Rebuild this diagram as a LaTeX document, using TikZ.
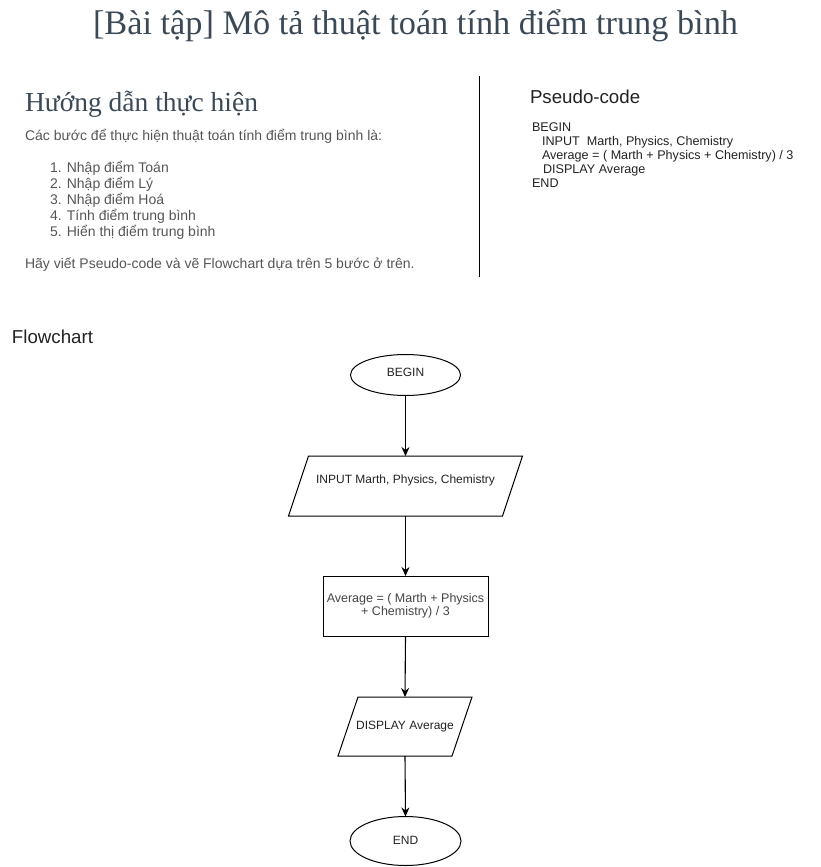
\documentclass[tikz,border=0pt]{standalone}
\usepackage{fontspec}
\setmainfont{Liberation Sans}
\newfontfamily\serifface{Liberation Serif}
\usetikzlibrary{arrows.meta,shapes.geometric}
\definecolor{titlecol}{HTML}{3B4956}
\definecolor{bodycol}{HTML}{555555}
\definecolor{codecol}{HTML}{222222}
\definecolor{proccol}{HTML}{444444}
\begin{document}
\begin{tikzpicture}[x=1pt,y=-1pt,
  txt/.style={anchor=base west,inner sep=0pt,outer sep=0pt},
  body/.style={txt,text=bodycol,font=\fontsize{14}{16}\selectfont},
  code/.style={txt,text=codecol,font=\fontsize{12.6}{14}\selectfont},
  heading/.style={txt,text=codecol,font=\fontsize{18.7}{22}\selectfont},
  shapeline/.style={draw=black,line width=1pt},
  chartfont/.style={font=\fontsize{12}{14}\selectfont,text=codecol},
  term/.style={shapeline,ellipse,inner sep=0pt,outer sep=0pt,chartfont},
  iobox/.style={inner sep=0pt,outer sep=0pt,chartfont},
  proc/.style={shapeline,rectangle,inner sep=0pt,outer sep=0pt,align=center,
    minimum width=165pt,minimum height=60pt,font=\fontsize{12.5}{13.5}\selectfont,text=proccol},
  conn/.style={-{Stealth[length=9pt,width=8pt]},line width=1.1pt,draw=black}
]
\useasboundingbox (0,0) rectangle (821,867);

% Title
\node[anchor=base,inner sep=0pt,text=titlecol,font=\serifface\fontsize{34.3}{40}\selectfont] (title) at (415.5,35) {[Bài tập] Mô tả thuật toán tính điểm trung bình};

% Left column
\node[txt,text=titlecol,font=\serifface\fontsize{27.5}{30}\selectfont] (guide) at (25,111) {Hướng dẫn thực hiện};
\node[body] (intro) at (25,140) {Các bước để thực hiện thuật toán tính điểm trung bình là:};
\node[body] (s1) at (50,172) {1. Nhập điểm Toán};
\node[body] (s2) at (50,188) {2. Nhập điểm Lý};
\node[body] (s3) at (50,204) {3. Nhập điểm Hoá};
\node[body] (s4) at (50,220) {4. Tính điểm trung bình};
\node[body] (s5) at (50,236) {5. Hiển thị điểm trung bình};
\node[body] (task) at (25,268) {Hãy viết Pseudo-code và vẽ Flowchart dựa trên 5 bước ở trên.};

% Divider
\coordinate (divtop) at (479.5,76);
\coordinate (divbot) at (479.5,277);
\draw[line width=1pt] (divtop) -- (divbot);

% Pseudo-code
\node[heading] (pch) at (530,103) {Pseudo-code};
\node[code] (c1) at (532,131) {BEGIN};
\node[code] (c2) at (542,145) {INPUT\ \ Marth, Physics, Chemistry};
\node[code] (c3) at (542,159) {Average = ( Marth + Physics + Chemistry) / 3};
\node[code] (c4) at (543,173) {DISPLAY Average};
\node[code] (c5) at (532,187) {END};

% Flowchart
\node[heading] (fch) at (12,343) {Flowchart};

\node[term,minimum width=110pt,minimum height=41pt] (begin) at (405.5,375) {\raisebox{3pt}[\height][\depth]{BEGIN}};
\node[iobox,minimum width=214pt,minimum height=60pt] (input) at (405.5,486) {\raisebox{6pt}[\height][\depth]{INPUT Marth, Physics, Chemistry}};
\draw[shapeline] ([xshift=-10pt]input.south west) -- ([xshift=-10pt]input.south east)
  -- ([xshift=10pt]input.north east) -- ([xshift=10pt]input.north west) -- cycle;
\node[proc] (avg) at (405.5,606) {Average = ( Marth + Physics\\+ Chemistry) / 3};
\node[iobox,minimum width=114pt,minimum height=59pt] (disp) at (405,726.5) {DISPLAY Average};
\draw[shapeline] ([xshift=-10pt]disp.south west) -- ([xshift=-10pt]disp.south east)
  -- ([xshift=10pt]disp.north east) -- ([xshift=10pt]disp.north west) -- cycle;
\node[term,minimum width=111pt,minimum height=49pt] (end) at (405.5,841) {\raisebox{1pt}[\height][\depth]{END}};

\draw[conn] (begin.south) -- (input.north);
\draw[conn] (input.south) -- (avg.north);
\draw[conn] (avg.south) -- (disp.north);
\draw[conn] (disp.south) -- (end.north);
\end{tikzpicture}
\end{document}
